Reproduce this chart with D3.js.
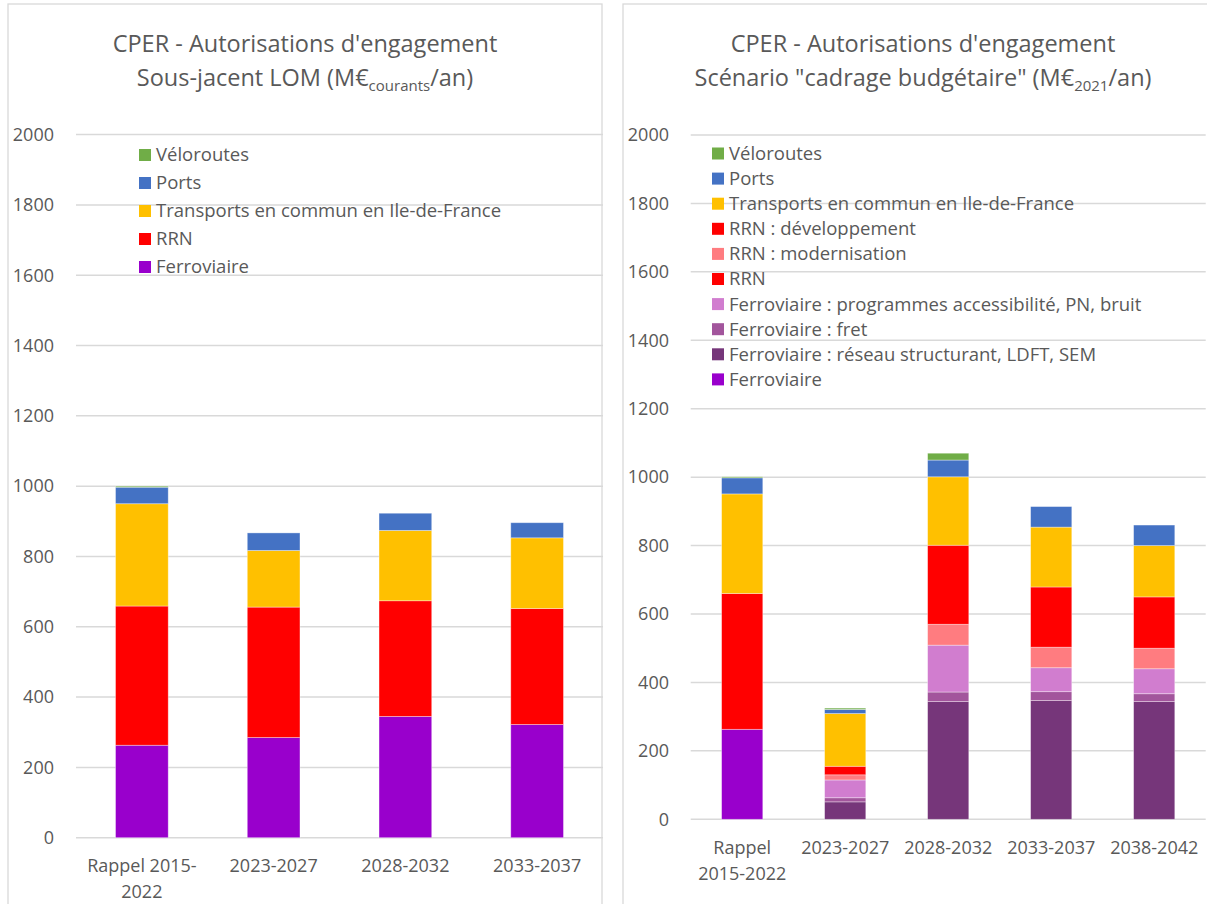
<!DOCTYPE html>
<html>
<head>
<meta charset="utf-8">
<script src="https://cdn.jsdelivr.net/npm/d3@7"></script>
<style>
  body { margin: 0; background: #fff; }
  svg text { font-family: "Open Sans", sans-serif; fill: #595959; }
</style>
</head>
<body>
<svg id="chart" width="1207" height="904"></svg>
<script>
// ---- data (left: sous-jacent LOM, M€ courants/an) ----
var leftCategories = ["Rappel 2015-2022", "2023-2027", "2028-2032", "2033-2037"];
var leftTickLabels = [["Rappel 2015-", "2022"], ["2023-2027"], ["2028-2032"], ["2033-2037"]];
var leftFerroviaire = [263, 285, 345, 322];
var leftRRN = [396, 371, 329, 330];
var leftTC = [291, 161, 200, 201];
var leftPorts = [47, 50, 49, 43];
var leftVeloroutes = [3, 0, 0, 0];

// ---- data (right: scénario cadrage budgétaire, M€2021/an) ----
var rightCategories = ["Rappel 2015-2022", "2023-2027", "2028-2032", "2033-2037", "2038-2042"];
var rightTickLabels = [["Rappel", "2015-2022"], ["2023-2027"], ["2028-2032"], ["2033-2037"], ["2038-2042"]];
var rightFerroviaire = [263, 0, 0, 0, 0];
var rightReseau = [0, 51, 344, 347, 344];
var rightFret = [0, 12, 28, 26, 23];
var rightProgrammes = [0, 52, 137, 70, 73];
var rightRRN = [397, 0, 0, 0, 0];
var rightModernisation = [0, 15, 61, 60, 60];
var rightDeveloppement = [0, 25, 231, 176, 150];
var rightTC = [291, 154, 200, 175, 150];
var rightPorts = [47, 12, 49, 60, 60];
var rightVeloroutes = [3, 4, 20, 0, 0];

var yTicks = [0, 200, 400, 600, 800, 1000, 1200, 1400, 1600, 1800, 2000];

var svg = d3.select("#chart");

function drawPanel(opt) {
  var g = svg.append("g");

  // panel border
  g.append("rect")
    .attr("x", opt.box[0]).attr("y", opt.box[1])
    .attr("width", opt.box[2]).attr("height", opt.box[3])
    .attr("fill", "none").attr("stroke", "#d9d9d9").attr("stroke-width", 1.3);

  var x = d3.scaleBand().domain(opt.categories).range(opt.xRange)
    .paddingInner(0.6).paddingOuter(0.3);
  var y = d3.scaleLinear().domain([0, 2000]).range(opt.yRange);

  // gridlines
  g.selectAll(".grid").data(yTicks).enter().append("line")
    .attr("x1", opt.xRange[0]).attr("x2", opt.xRange[1])
    .attr("y1", function(d) { return y(d); }).attr("y2", function(d) { return y(d); })
    .attr("stroke", "#d9d9d9").attr("stroke-width", 1.5);

  // y tick labels
  g.selectAll(".ytick").data(yTicks).enter().append("text")
    .attr("x", opt.tickX).attr("y", function(d) { return y(d); })
    .attr("dy", "0.35em").attr("text-anchor", "end")
    .style("font-size", "18px")
    .text(function(d) { return d; });

  // stacked bars
  var rows = opt.categories.map(function(c, i) {
    var r = { cat: c };
    opt.series.forEach(function(s) { r[s.name] = s.values[i]; });
    return r;
  });
  var stack = d3.stack().keys(opt.series.map(function(s) { return s.name; }));
  var layers = stack(rows);

  layers.forEach(function(layer, li) {
    g.selectAll(".seg" + li).data(layer.filter(function(d) { return d[1] - d[0] > 0; }))
      .enter().append("rect")
      .attr("x", function(d) { return x(d.data.cat); })
      .attr("width", x.bandwidth())
      .attr("y", function(d) { return y(d[1]); })
      .attr("height", function(d) { return y(d[0]) - y(d[1]); })
      .attr("fill", opt.series[li].color)
      .attr("stroke", "#ffffff").attr("stroke-opacity", 0.45).attr("stroke-width", 0.8);
  });

  // x labels
  opt.categories.forEach(function(c, i) {
    var t = g.append("text")
      .attr("x", x(c) + x.bandwidth() / 2)
      .attr("y", opt.labelY)
      .attr("text-anchor", "middle")
      .style("font-size", "18px");
    opt.tickLabels[i].forEach(function(line, j) {
      t.append("tspan").attr("x", x(c) + x.bandwidth() / 2)
        .attr("dy", j == 0 ? 0 : 25.5).text(line);
    });
  });

  // title
  var cx = opt.box[0] + opt.box[2] / 2;
  g.append("text").attr("x", cx).attr("y", 52).attr("text-anchor", "middle")
    .style("font-size", "23.5px").text(opt.title1);
  var t2 = g.append("text").attr("x", cx).attr("y", 86).attr("text-anchor", "middle")
    .style("font-size", "23.5px");
  t2.append("tspan").text(opt.title2[0]);
  t2.append("tspan").attr("dy", 5).style("font-size", "15px").text(opt.title2[1]);
  t2.append("tspan").attr("dy", -5).text(opt.title2[2]);

  // legend (top to bottom = reverse of stack order)
  var leg = opt.series.slice().reverse();
  leg.forEach(function(s, i) {
    var cy = opt.legend.y + i * opt.legend.step;
    g.append("rect").attr("x", opt.legend.x).attr("y", cy - 6)
      .attr("width", 12).attr("height", 12).attr("fill", s.color);
    g.append("text").attr("x", opt.legend.x + 17).attr("y", cy).attr("dy", "0.35em")
      .style("font-size", "18.5px").text(s.name);
  });
}

drawPanel({
  box: [8, 4, 594, 920],
  categories: leftCategories,
  tickLabels: leftTickLabels,
  xRange: [76, 603],
  yRange: [837.7, 134.6],
  tickX: 54,
  labelY: 872,
  title1: "CPER - Autorisations d'engagement",
  title2: ["Sous-jacent LOM (M€", "courants", "/an)"],
  legend: { x: 139, y: 155, step: 28 },
  series: [
    { name: "Ferroviaire", values: leftFerroviaire, color: "#9900cc" },
    { name: "RRN", values: leftRRN, color: "#ff0000" },
    { name: "Transports en commun en Ile-de-France", values: leftTC, color: "#ffc000" },
    { name: "Ports", values: leftPorts, color: "#4472c4" },
    { name: "Véloroutes", values: leftVeloroutes, color: "#70ad47" }
  ]
});

drawPanel({
  box: [623, 4, 600, 920],
  categories: rightCategories,
  tickLabels: rightTickLabels,
  xRange: [690.7, 1205.7],
  yRange: [819.3, 135],
  tickX: 669,
  labelY: 854,
  title1: "CPER - Autorisations d'engagement",
  title2: ["Scénario \"cadrage budgétaire\" (M€", "2021", "/an)"],
  legend: { x: 712, y: 153.5, step: 25.1 },
  series: [
    { name: "Ferroviaire", values: rightFerroviaire, color: "#9900cc" },
    { name: "Ferroviaire : réseau structurant, LDFT, SEM", values: rightReseau, color: "#76367a" },
    { name: "Ferroviaire : fret", values: rightFret, color: "#a2559c" },
    { name: "Ferroviaire  : programmes accessibilité, PN, bruit", values: rightProgrammes, color: "#d17dcf" },
    { name: "RRN", values: rightRRN, color: "#ff0000" },
    { name: "RRN : modernisation", values: rightModernisation, color: "#ff7c80" },
    { name: "RRN : développement", values: rightDeveloppement, color: "#ff0000" },
    { name: "Transports en commun en Ile-de-France", values: rightTC, color: "#ffc000" },
    { name: "Ports", values: rightPorts, color: "#4472c4" },
    { name: "Véloroutes", values: rightVeloroutes, color: "#70ad47" }
  ]
});
</script>
</body>
</html>
